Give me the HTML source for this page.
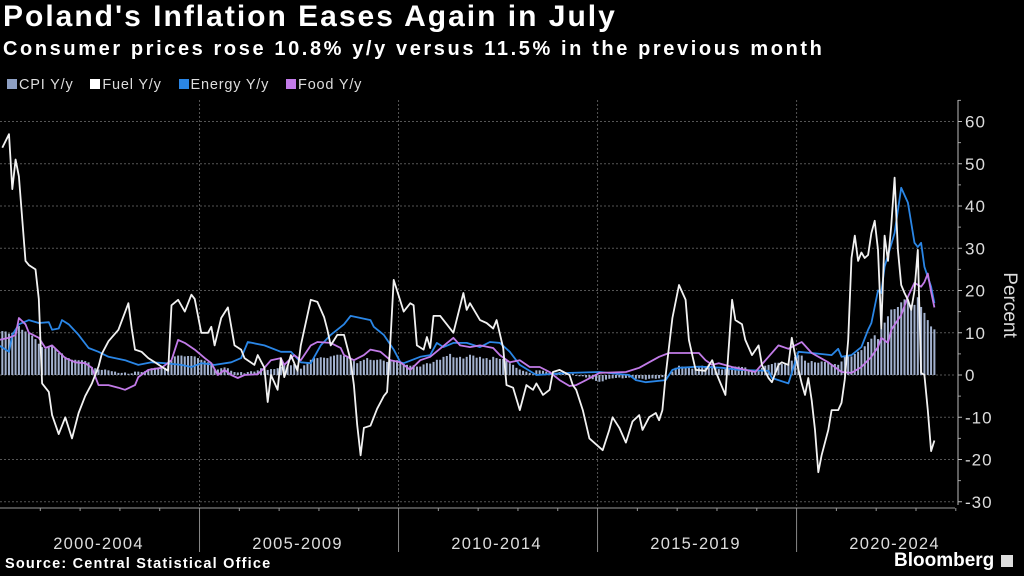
<!DOCTYPE html>
<html><head><meta charset="utf-8">
<style>
html,body{margin:0;padding:0;background:#000;}
body{width:1024px;height:576px;overflow:hidden;position:relative;font-family:"Liberation Sans",sans-serif;color:#fff;}
.t{position:absolute;white-space:nowrap;}
</style></head>
<body>
<div class="t" style="left:3px;top:0px;font-size:30px;font-weight:bold;letter-spacing:2px;">Poland's Inflation Eases Again in July</div>
<div class="t" style="left:3px;top:38px;font-size:20px;font-weight:bold;letter-spacing:2.6px;">Consumer prices rose 10.8% y/y versus 11.5% in the previous month</div>
<div class="t" style="left:7px;top:77px;font-size:14.5px;color:#ddd;letter-spacing:0.8px;">
<span><span style="display:inline-block;width:10px;height:10px;background:#8ea0c4;margin-right:2px;"></span>CPI Y/y</span>
<span style="margin-left:12px;"><span style="display:inline-block;width:10px;height:10px;background:#fff;margin-right:2px;"></span>Fuel Y/y</span>
<span style="margin-left:12px;"><span style="display:inline-block;width:10px;height:10px;background:#2a86e6;margin-right:2px;"></span>Energy Y/y</span>
<span style="margin-left:12px;"><span style="display:inline-block;width:10px;height:10px;background:#c27be8;margin-right:2px;"></span>Food Y/y</span>
</div>
<svg id="chart" width="1024" height="576" style="position:absolute;left:0;top:0;"></svg>
<div class="t" style="left:5px;top:556px;font-size:14.5px;font-weight:bold;letter-spacing:1.2px;">Source: Central Statistical Office</div>
<div class="t" style="left:894px;top:550px;font-size:19px;font-weight:bold;">Bloomberg <span style="display:inline-block;width:12px;height:12px;background:#ddd;vertical-align:-1px;margin-left:1px;"></span></div>
<script>
const cpi=[10.1,10.4,10.3,9.8,10.0,10.2,11.6,10.7,10.3,9.9,9.3,8.5,
7.4,6.6,6.2,6.6,6.9,6.2,5.2,5.1,4.3,4.0,3.6,3.6,
3.5,3.5,3.3,3.0,1.9,1.6,1.3,1.2,1.3,1.1,0.9,0.8,
0.5,0.5,0.6,0.3,0.4,0.8,0.8,0.7,0.9,1.3,1.6,1.7,
1.6,1.6,1.7,2.2,3.4,4.4,4.6,4.6,4.4,4.5,4.5,4.4,
4.0,3.6,3.4,3.0,2.5,1.4,1.3,1.6,1.8,1.6,1.0,0.7,
0.6,0.7,0.4,0.7,0.9,0.8,1.1,1.6,1.6,1.2,1.4,1.4,
1.6,1.9,2.5,2.3,2.3,2.6,2.3,1.5,2.3,3.0,3.6,4.0,
4.0,4.2,4.1,4.0,4.4,4.6,4.8,4.8,4.5,4.2,3.7,3.3,
2.8,3.3,3.6,4.0,3.6,3.5,3.6,3.7,3.4,3.1,3.3,3.5,
3.5,2.9,2.6,2.4,2.2,2.3,2.0,2.0,2.5,2.8,2.7,3.1,
3.6,3.6,4.3,4.5,5.0,4.2,4.1,4.3,3.9,4.3,4.8,4.6,
4.1,4.3,3.9,4.0,3.6,4.3,4.0,3.8,3.8,3.4,2.8,2.4,
1.7,1.3,1.0,0.8,0.5,0.2,1.1,1.1,1.0,0.8,0.6,0.7,
0.5,0.7,0.7,0.3,0.2,0.3,-0.2,-0.3,-0.3,-0.6,-0.6,-1.0,
-1.4,-1.6,-1.5,-1.1,-0.9,-0.8,-0.7,-0.6,-0.8,-0.7,-0.6,-0.5,
-0.9,-0.8,-0.9,-1.1,-0.9,-0.8,-0.9,-0.8,-0.5,-0.2,0.0,0.8,
1.7,2.2,2.0,2.0,1.9,1.5,1.7,1.8,2.2,2.1,2.5,2.1,
1.9,1.4,1.3,1.6,1.7,2.0,2.0,2.0,1.9,1.8,1.3,1.1,
0.7,1.2,1.7,2.2,2.4,2.6,2.9,2.9,2.6,2.5,2.6,3.4,
4.3,4.7,4.6,3.4,2.9,3.3,3.0,2.9,3.2,3.1,3.0,2.4,
2.6,2.4,3.2,4.3,4.7,4.4,5.0,5.5,5.9,6.8,7.8,8.6,
9.4,8.5,11.0,12.4,13.9,15.5,15.6,16.1,17.2,17.9,17.5,16.6,
16.6,18.4,16.1,14.7,13.0,11.5,10.8];
// months since Jan 2000
const fuelMonths=[1,3,4,5,6,8,9,11,12,13,15,16,18,20,22,24,26,28,30,31,33,36,39,40,41,43,45,47,49,51,52,54,56,58,59,61,63,64,65,67,69,71,73,74,77,78,80,81,82,84,85,86,88,90,91,94,96,98,99,100,102,104,106,107,108,109,110,112,114,116,117,118,119,122,124,125,126,128,129,130,131,133,135,137,140,141,142,145,147,149,150,152,153,155,157,159,161,162,164,166,167,169,172,173,174,176,178,182,184,185,187,189,191,193,194,196,198,199,200,201,203,205,207,208,210,213,215,216,217,219,221,222,224,225,227,229,230,232,233,235,236,238,239,240,242,243,244,245,246,247,248,250,251,253,254,255,256,257,258,259,260,261,262,263,264,265,266,267,268,269,270,271,272,273,274,275,276,277,278,279,280,281,282];
const fuelValues=[53.8,57,44,51,47,27,26,25,18,-2,-4,-9.5,-14,-10,-15,-9,-5,-2,2,5,8,10.7,17,11,6,5.5,4,3,2,1,16.5,17.8,15,19,18,10,10,11.4,7,13.5,16,7,6,4,2.4,4.7,1.7,-6.4,0,-3.5,4,-0.5,4.7,1,7,17.8,17.3,13.7,10.7,7,9.5,9.5,3.5,-2.4,-11.8,-19,-12.5,-12,-8,-5,-4,8,22.5,15,17,16.5,7,6,9,6.4,14,14,12,10,19.4,15.4,17,13,12.3,11,13,6.4,-2.4,-3,-8.3,-2.4,-3.5,-2,-4.7,-3.5,0.7,1.2,0,-2.4,-3.5,-8.3,-15,-17.8,-13,-10,-12.5,-16,-11,-9.5,-13,-10,-9,-10.7,-8.3,0,13.5,21.3,17.8,8.3,1.2,1,3.5,1,-1,-4.7,17.8,13,12,8.3,4.7,7,2.4,-0.7,-1.7,2.4,3,2.4,8.8,4.7,-2,-4.7,-0.7,-6,-13,-23,-19,-13,-8.3,-8.3,-6.6,-1,8.3,27.7,33,27,29,27.7,28.4,33.6,36.5,29.6,11,33,27,35.5,46.7,29.6,21.3,19.4,17.8,15.4,20,29.6,0.5,0,-8.3,-18,-15.5];
const energyMonths=[0,3,4,6,9,12,15,16,18,19,21,24,27,30,33,38,42,46,50,55,58,61,65,70,73,75,80,85,88,91,94,97,100,104,106,109,112,113,116,119,121,122,127,130,132,134,137,141,145,148,151,154,157,162,168,172,181,190,192,195,201,203,205,211,218,223,232,233,238,241,245,251,253,254,257,260,262,263,265,266,267,270,272,274,276,277,278,279,281,282];
const energyValues=[7,5.5,9.5,12,13,12.3,12.5,10.7,11,13,12,9.5,6.4,5.5,4.3,3.5,2.4,3,2.8,2.4,1.9,2.8,2.4,3,4,7.8,7,5.5,5.5,3,2.8,7,9.5,12,14,13.5,13,11.4,9.5,6,3,2.8,4.3,4.7,7.6,6.6,7.6,7.6,6.6,7.8,7.6,5.5,2.4,0,0.3,0.5,0.7,0,-1.2,-1.7,-1.2,1.2,1.7,2,1.7,1.2,1,-0.7,-2,5.5,5.2,4.7,6.2,4.3,4.7,6.6,10.7,12.3,20,19.4,25.6,33.6,44.3,40.8,31.3,30.3,31.3,25.6,20.9,17];
const foodMonths=[0,3,5,6,8,9,12,14,16,18,20,23,26,28,30,33,36,38,41,42,45,49,52,54,56,59,62,64,66,68,70,72,74,78,80,82,85,86,89,91,94,96,100,103,104,107,110,112,115,118,121,124,127,130,137,139,142,145,149,151,154,157,160,163,166,169,172,174,177,181,189,193,196,199,202,211,213,215,217,221,228,232,235,238,242,245,250,254,257,260,263,265,266,268,269,272,274,276,278,279,280,281,282];
const foodValues=[8.3,8.8,9.5,13.5,12,10,8.8,6.4,7,5.5,4,3,2.8,1.7,-2.4,-2.4,-3,-3.5,-2.4,-0.5,1.2,1.7,3.5,8.3,7.6,6,4,2.8,0,1.2,0,-0.7,0,0.2,1.7,3.5,4,2.4,4.7,3.5,7,7.8,7.6,6.4,4.7,3.5,4.7,6,5.5,3.5,3,1.2,3.5,4.3,8.8,7,6.6,7,6.4,4.7,3,3.5,1.9,1.9,0.7,-1.2,-2.6,-2.4,-1.2,0.5,0.7,1.7,3,4.3,5.2,5.2,3.5,2.4,2.8,1.9,0.7,4.3,7,6.2,7.8,5.2,3,0.7,0.5,1.9,4.3,6.6,8.8,7.6,10.7,14.2,18.5,21.8,20.9,22,24,19.7,16];
const yTicks=[60,50,40,30,20,10,0,-10,-20,-30];
const periodLabels=["2000-2004","2005-2009","2010-2014","2015-2019","2020-2024"];

const NS="http://www.w3.org/2000/svg";
const svg=document.getElementById('chart');
function xS(m){return m*3.317-1;}
function yS(v){return 375-v*4.225;}
function mk(tag,attrs){const e=document.createElementNS(NS,tag);for(const k in attrs)e.setAttribute(k,attrs[k]);svg.appendChild(e);return e;}

yTicks.forEach(v=>{
  const g=mk('line',{x1:0,x2:955,y1:yS(v),y2:yS(v),stroke:'#555','stroke-width':1,'stroke-dasharray':'2,2'});
  
  
  const t=mk('line',{x1:958,x2:962,y1:yS(v),y2:yS(v),stroke:'#bbb','stroke-width':1});
  
  
  const l=mk('text',{x:965,y:yS(v)+6,fill:'#ddd','font-size':17,'letter-spacing':1,'font-family':'Liberation Sans, sans-serif'});
  l.textContent=v<0?'-'+Math.abs(v):String(v);
  
  
});
for(let v=-25;v<=65;v+=10){
  const t=mk('line',{x1:958,x2:961,y1:yS(v),y2:yS(v),stroke:'#999','stroke-width':1});
  
  
}
const ya=mk('line',{x1:958,x2:958,y1:100,y2:505,stroke:'#bbb','stroke-width':1});


const yt=mk('text',{x:0,y:0,fill:'#ddd','font-size':19,'font-family':'Liberation Sans, sans-serif','text-anchor':'middle',transform:'translate(1004,305) rotate(90)'});
yt.textContent='Percent';



periodLabels.forEach((p,i)=>{
  const x0=xS(i*60)+1.5;
  if(i>0){
    const d=mk('line',{x1:x0,x2:x0,y1:100,y2:508,stroke:'#555','stroke-width':1,'stroke-dasharray':'2,2'});
    
    
    const s=mk('line',{x1:x0,x2:x0,y1:508,y2:552,stroke:'#888','stroke-width':1});
    
    
  }
  for(let k=1;k<5;k++){
    const tx=xS(i*60+k*12)+1.5;
    const tk=mk('line',{x1:tx,x2:tx,y1:508,y2:511,stroke:'#999','stroke-width':1});
    
    
  }
  const t=mk('text',{x:xS(i*60+30),y:549,fill:'#ddd','font-size':16.5,'letter-spacing':1.3,'font-family':'Liberation Sans, sans-serif','text-anchor':'middle'});
  t.textContent=p;
  
  
});
const xa=mk('line',{x1:0,x2:955,y1:508,y2:508,stroke:'#999','stroke-width':1});



cpi.forEach((v,i)=>{
  const y0=yS(0),y1=yS(v);
  const b=mk('rect',{x:xS(i)-1,y:Math.min(y0,y1),width:2,height:Math.max(0.5,Math.abs(y1-y0)),fill:'#a3b2cf'});
  
  
});
function line(ms,vs,color,name){
  const d=ms.map((m,i)=>(i?'L':'M')+xS(m).toFixed(1)+','+yS(vs[i]).toFixed(1)).join('');
  const p=mk('path',{d:d,fill:'none',stroke:color,'stroke-width':1.8,'stroke-linejoin':'round'});
  
  
}
line(energyMonths,energyValues,'#2a86e6','energy-line');
line(foodMonths,foodValues,'#c27be8','food-line');
line(fuelMonths,fuelValues,'#f2f2f2','fuel-line');
</script>
</body></html>
